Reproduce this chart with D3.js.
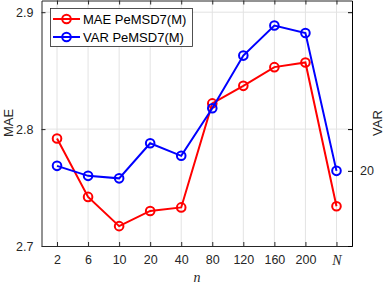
<html>
<head>
<script src="https://d3js.org/d3.v7.min.js"></script>
<style>
  body { margin: 0; background: #fff; }
  text { font-family: "Liberation Sans", Arial, sans-serif; }
</style>
</head>
<body>
<svg width="390" height="286"></svg>
<script>
var cats = ["2", "6", "10", "20", "40", "80", "120", "160", "200", "N"];
var mae = [2.792, 2.742, 2.717, 2.730, 2.733, 2.822, 2.837, 2.853, 2.857, 2.734];
var vari = [20.02, 19.98, 19.97, 20.11, 20.06, 20.25, 20.46, 20.58, 20.55, 20.00];
var maeTicks = [2.7, 2.8, 2.9];
var varTicks = [20];

var svg = d3.select("svg");
var L = 41.5, R = 352, T = 0.5, B = 246;

var x = d3.scalePoint().domain(cats).range([L, R]).padding(0.5);
var yL = d3.scaleLinear().domain([2.7, 2.91]).range([B, T]);
var yR = d3.scaleLinear().domain([19.7, 20.68]).range([B, T]);

// grid
var grid = svg.append("g").attr("stroke", "#e3e3e3").attr("stroke-width", 1);
cats.forEach(function(c){
  grid.append("line").attr("x1", x(c)).attr("x2", x(c)).attr("y1", T).attr("y2", B);
});
maeTicks.slice(1).forEach(function(t){
  grid.append("line").attr("x1", L).attr("x2", R).attr("y1", yL(t)).attr("y2", yL(t));
});

// axes, ticks inward
var xb = svg.append("g").attr("transform", "translate(0," + B + ")")
  .call(d3.axisBottom(x).tickSizeInner(-4).tickSizeOuter(0).tickPadding(9));
xb.selectAll("text").filter(function(d){ return d === "N"; })
  .style("font-family", "'Liberation Serif', 'Times New Roman', serif")
  .style("font-style", "italic").style("font-size", "14px");
var xt = svg.append("g").attr("transform", "translate(0," + T + ")")
  .call(d3.axisTop(x).tickSizeInner(-4).tickSizeOuter(0).tickFormat(""));
var yl = svg.append("g").attr("transform", "translate(" + L + ",0)")
  .call(d3.axisLeft(yL).tickValues(maeTicks).tickSizeInner(-4).tickSizeOuter(0)
    .tickPadding(8).tickFormat(d3.format(".1f")));
var yr = svg.append("g").attr("transform", "translate(" + R + ",0)")
  .call(d3.axisRight(yR).tickValues(varTicks).tickSizeInner(-4).tickSizeOuter(0)
    .tickPadding(8).tickFormat(d3.format("d")));
var yr2 = svg.append("g").attr("transform", "translate(" + R + ",0)")
  .call(d3.axisRight(yL).tickValues(maeTicks).tickSizeInner(-4).tickSizeOuter(0).tickFormat(""));

[xb, xt, yl].forEach(function(g){
  g.select(".domain").attr("stroke", "#262626");
  g.selectAll(".tick line").attr("stroke", "#262626");
});
[yr, yr2].forEach(function(g){
  g.select(".domain").attr("stroke", "#000");
  g.selectAll(".tick line").attr("stroke", "#000");
});
svg.selectAll(".tick text").attr("font-size", 12.5).attr("fill", "#262626");

// series
function series(vals, sc, color){
  var line = d3.line().x(function(d, i){ return x(cats[i]); }).y(function(d){ return sc(d); });
  svg.append("path").datum(vals).attr("d", line)
    .attr("fill", "none").attr("stroke", color).attr("stroke-width", 2);
  svg.append("g").selectAll("circle").data(vals).enter().append("circle")
    .attr("cx", function(d, i){ return x(cats[i]); })
    .attr("cy", function(d){ return sc(d); })
    .attr("r", 4.3).attr("fill", "none").attr("stroke", color).attr("stroke-width", 2);
}
series(mae, yL, "#ff0000");
series(vari, yR, "#0000ff");

// labels
svg.append("text").attr("transform", "translate(13,123) rotate(-90)")
  .attr("text-anchor", "middle").attr("font-size", 13).attr("fill", "#262626").text("MAE");
svg.append("text").attr("transform", "translate(382,123) rotate(-90)")
  .attr("text-anchor", "middle").attr("font-size", 13).attr("fill", "#262626").text("VAR");
svg.append("text").attr("x", 197).attr("y", 282).attr("text-anchor", "middle")
  .style("font-family", "'Liberation Serif', 'Times New Roman', serif")
  .style("font-style", "italic").attr("font-size", 14).attr("fill", "#262626").text("n");

// legend
var lg = svg.append("g");
lg.append("rect").attr("x", 50.5).attr("y", 8.5).attr("width", 142).attr("height", 38)
  .attr("fill", "#fff").attr("stroke", "#262626").attr("stroke-width", 0.8);
var leg = [["MAE PeMSD7(M)", "#ff0000"], ["VAR PeMSD7(M)", "#0000ff"]];
leg.forEach(function(d, i){
  var yy = 19 + i * 18;
  lg.append("line").attr("x1", 53).attr("x2", 80).attr("y1", yy).attr("y2", yy)
    .attr("stroke", d[1]).attr("stroke-width", 2);
  lg.append("circle").attr("cx", 66.5).attr("cy", yy).attr("r", 4.3)
    .attr("fill", "none").attr("stroke", d[1]).attr("stroke-width", 2);
  lg.append("text").attr("x", 83).attr("y", yy + 4.5).attr("font-size", 13)
    .attr("fill", "#000").text(d[0]);
});
</script>
</body>
</html>
